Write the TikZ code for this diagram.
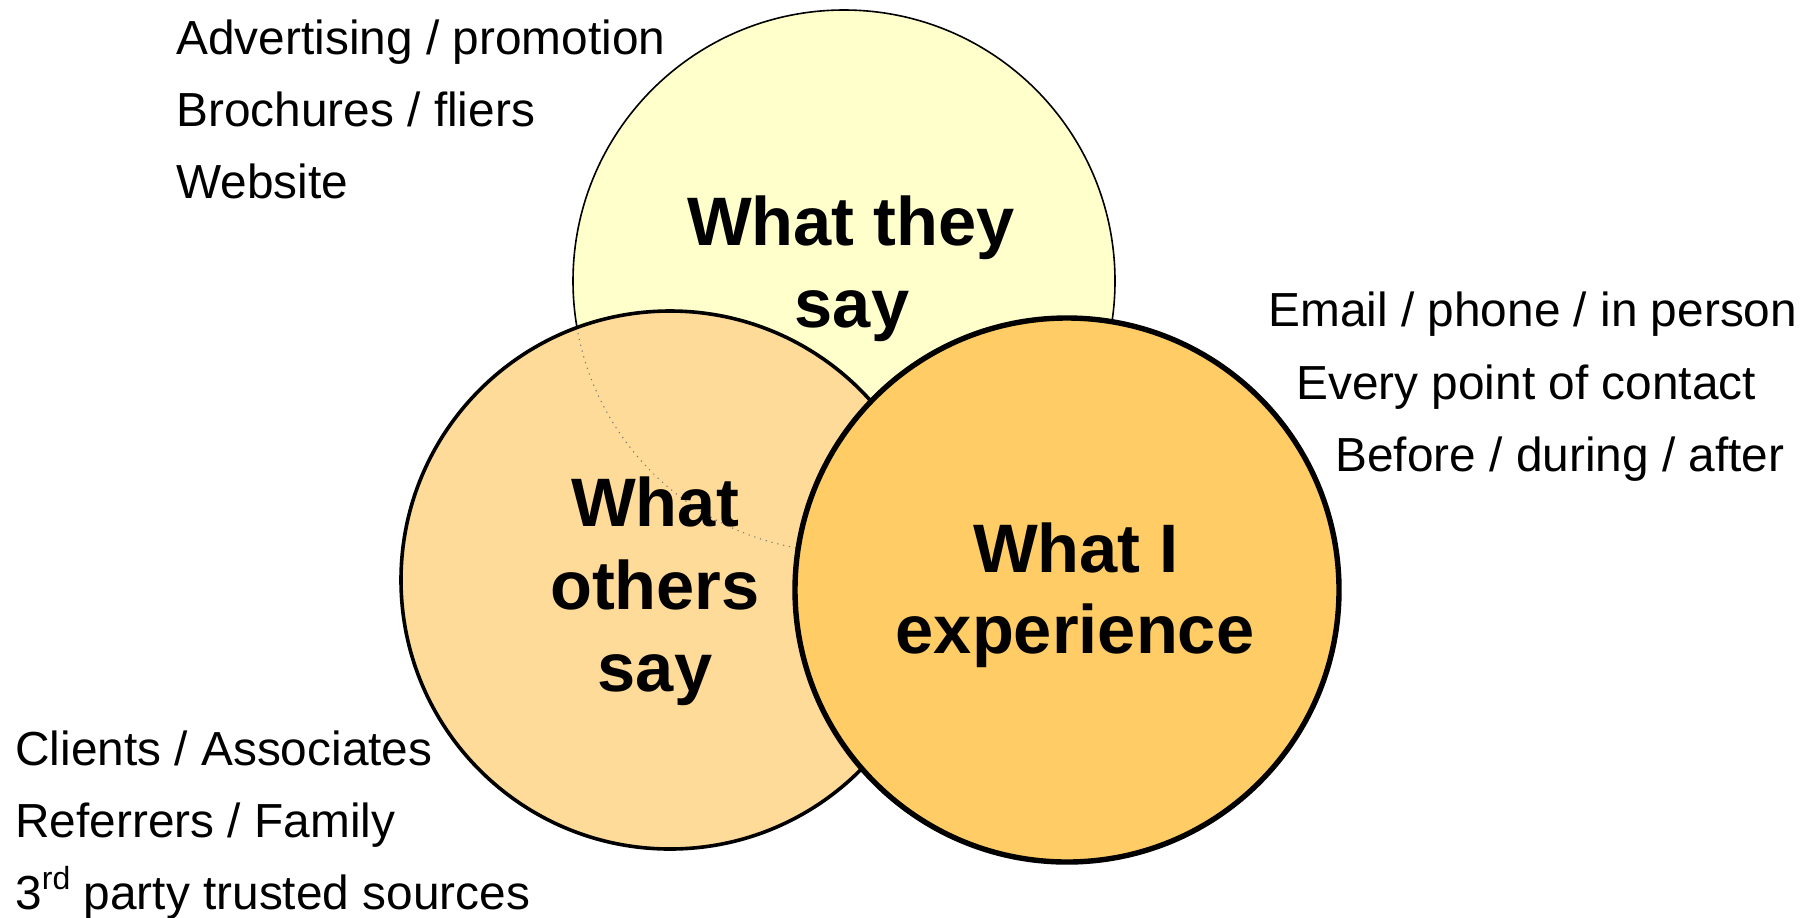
\documentclass[tikz,border=0pt]{standalone}
\usepackage{fontspec}
\setmainfont{Liberation Sans}
\begin{document}
\begin{tikzpicture}[x=0.5pt, y=-0.5pt,
  head/.style={inner sep=0pt, anchor=base, font=\bfseries\fontsize{34.3}{41}\selectfont},
  item/.style={inner sep=0pt, anchor=base west, font=\fontsize{23.9}{28.7}\selectfont},
  ring/.style={draw=black}]
\definecolor{theyfill}{RGB}{255,255,204}
\definecolor{othersfill}{RGB}{255,219,153}
\definecolor{mefill}{RGB}{255,204,102}
\useasboundingbox (0,0) rectangle (1813,917);

% circle centres
\coordinate (cThey) at (844,281);
\coordinate (cOthers) at (670,580);
\coordinate (cMe) at (1067,590);

% "What they say"
\fill[theyfill] (cThey) circle[radius=271];
\draw[ring, line width=0.8pt] (cThey) circle[radius=271];

% "What others say"
\fill[othersfill] (cOthers) circle[radius=269];
\draw[ring, line width=1.8pt] (cOthers) circle[radius=269];
% faint trace of the upper circle seen through the left one
\begin{scope}
  \clip (cOthers) circle[radius=266];
  \draw[black!55, line width=0.5pt, dash pattern=on 0.6pt off 2.4pt] (cThey) circle[radius=271];
\end{scope}

% "What I experience"
\fill[mefill] (cMe) circle[radius=272];
\draw[ring, line width=2.7pt] (cMe) circle[radius=272];

% circle titles
\node[head] (they1) at (851,245) {What they};
\node[head] (they2) at (852,327) {say};
\node[head] (oth1) at (655,526) {What};
\node[head] (oth2) at (655,609) {others};
\node[head] (oth3) at (655,691) {say};
\node[head] (me1) at (1076,572) {What I};
\node[head] (me2) at (1075,653) {experience};

% side lists
\node[item] (a1) at (176,54) {Advertising / promotion};
\node[item] (a2) at (176,126) {Brochures / fliers};
\node[item] (a3) at (176,198) {Website};

\node[item] (b1) at (1268,326) {Email / phone / in person};
\node[item] (b2) at (1296,399) {Every point of contact};
\node[item] (b3) at (1335,471) {Before / during / after};

\node[item] (c1) at (15,765) {Clients / Associates};
\node[item] (c2) at (15,837) {Referrers / Family};
\node[item] (c3) at (15,909) {3\raisebox{0.4em}{\fontsize{16}{18}\selectfont rd} party trusted sources};
\end{tikzpicture}
\end{document}
